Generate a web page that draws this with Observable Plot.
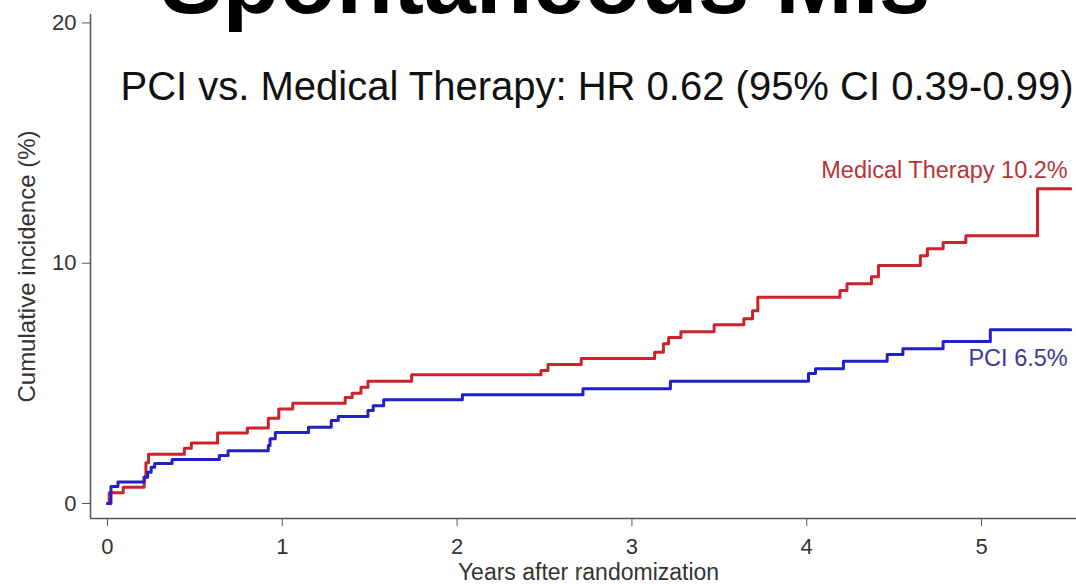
<!DOCTYPE html>
<html>
<head>
<meta charset="utf-8">
<script src="https://cdn.jsdelivr.net/npm/d3@7"></script>
<script src="https://cdn.jsdelivr.net/npm/@observablehq/plot@0.6"></script>
<style>
  html, body { margin: 0; padding: 0; background: #fff; overflow: hidden; }
  #chart { width: 1076px; height: 584px; }
</style>
</head>
<body>
<div id="chart"></div>
<script>
// Kaplan–Meier style cumulative incidence of spontaneous MI (years, %)
const medTimes = [0, 0.01, 0.09, 0.21, 0.22, 0.235, 0.44, 0.48, 0.63, 0.80, 0.92, 0.98,
  1.06, 1.36, 1.40, 1.45, 1.49, 1.74, 2.48, 2.52, 2.71, 3.13, 3.18, 3.21, 3.28, 3.47,
  3.64, 3.69, 3.72, 4.19, 4.23, 4.37, 4.41, 4.65, 4.69, 4.78, 4.91, 5.32, 5.51];
const medPct = [0, 0.45, 0.68, 1.1, 1.7, 2.05, 2.3, 2.52, 2.93, 3.14, 3.55, 3.93,
  4.17, 4.41, 4.59, 4.84, 5.09, 5.36, 5.53, 5.78, 6.03, 6.29, 6.65, 6.91, 7.15, 7.44,
  7.69, 8.02, 8.58, 8.86, 9.15, 9.44, 9.9, 10.31, 10.6, 10.86, 11.14, 13.1, 13.1];

const pciTimes = [0, 0.02, 0.06, 0.21, 0.23, 0.25, 0.27, 0.37, 0.64, 0.69, 0.92, 0.93,
  0.96, 1.15, 1.28, 1.32, 1.49, 1.52, 1.58, 2.03, 2.72, 3.22, 4.01, 4.05, 4.21, 4.46,
  4.55, 4.78, 5.05, 5.51];
const pciPct = [0, 0.71, 0.89, 1.09, 1.3, 1.51, 1.66, 1.83, 2.0, 2.2, 2.41, 2.7,
  2.95, 3.17, 3.45, 3.62, 3.87, 4.07, 4.32, 4.53, 4.78, 5.09, 5.41, 5.61, 5.92, 6.2,
  6.44, 6.74, 7.23, 7.23];

const xTicks = [0, 1, 2, 3, 4, 5];
const yTicks = [0, 10, 20];

const titleText = "Spontaneous MIs";
const subtitleText = "PCI vs. Medical Therapy: HR 0.62 (95% CI 0.39-0.99)";
const medLabel = "Medical Therapy 10.2%";
const pciLabel = "PCI 6.5%";
const xLabel = "Years after randomization";
const yLabel = "Cumulative incidence (%)";

// axis lines sit slightly outside the data range
const xDomain = [-0.097, 5.543];
const yDomain = [-0.624, 20.35];

const med = medTimes.map((t, i) => ({t, pct: medPct[i]}));
const pci = pciTimes.map((t, i) => ({t, pct: pciPct[i]}));

const font = "'Liberation Sans', Arial, Helvetica, sans-serif";
const axisGray = "#555";
const textGray = "#333";

const chart = Plot.plot({
  width: 1076,
  height: 584,
  marginLeft: 90,
  marginRight: 0,
  marginTop: 14,
  marginBottom: 66,
  x: {domain: xDomain},
  y: {domain: yDomain},
  style: {fontFamily: font, background: "#fff", color: textGray, overflow: "visible"},
  marks: [
    Plot.ruleX([xDomain[0]], {stroke: axisGray, strokeWidth: 1.5}),
    Plot.ruleY([yDomain[0]], {stroke: axisGray, strokeWidth: 1.5}),
    Plot.axisX({ticks: xTicks, tickFormat: d3.format("d"), tickSize: 8, tickPadding: 12,
      fontSize: 22, label: null, stroke: axisGray, fill: textGray}),
    Plot.axisY({ticks: yTicks, tickFormat: d3.format("d"), tickSize: 8, tickPadding: 6,
      fontSize: 22, label: null, stroke: axisGray, fill: textGray}),
    Plot.text([yLabel], {frameAnchor: "left", text: d => d, rotate: -90, dx: -63,
      textAnchor: "middle", lineAnchor: "middle", fontSize: 24, fill: textGray}),
    Plot.text([xLabel], {frameAnchor: "bottom", text: d => d, dx: 5, dy: 54,
      textAnchor: "middle", lineAnchor: "middle", fontSize: 23, fill: textGray}),
    Plot.text([titleText], {frameAnchor: "top-left", text: d => d, dx: 70, dy: -2,
      textAnchor: "start", lineAnchor: "bottom", fontSize: 93, fontWeight: "bold", fill: "#000"}),
    Plot.text([subtitleText], {frameAnchor: "top-left", text: d => d, dx: 30, dy: 85,
      textAnchor: "start", lineAnchor: "bottom", fontSize: 40, fill: "#111"}),
    Plot.line(med, {x: "t", y: "pct", curve: "step-after", stroke: "#cc2229", strokeWidth: 3}),
    Plot.line(pci, {x: "t", y: "pct", curve: "step-after", stroke: "#2121c6", strokeWidth: 3}),
    Plot.text(med.slice(-1), {x: "t", y: "pct", text: () => medLabel, textAnchor: "end",
      lineAnchor: "middle", dx: -3, dy: -18, fontSize: 23.5, fill: "#b8343a"}),
    Plot.text(pci.slice(-1), {x: "t", y: "pct", text: () => pciLabel, textAnchor: "end",
      lineAnchor: "middle", dx: -3, dy: 29, fontSize: 23.5, fill: "#3a3a98"})
  ]
});

document.getElementById("chart").appendChild(chart);
</script>
</body>
</html>
